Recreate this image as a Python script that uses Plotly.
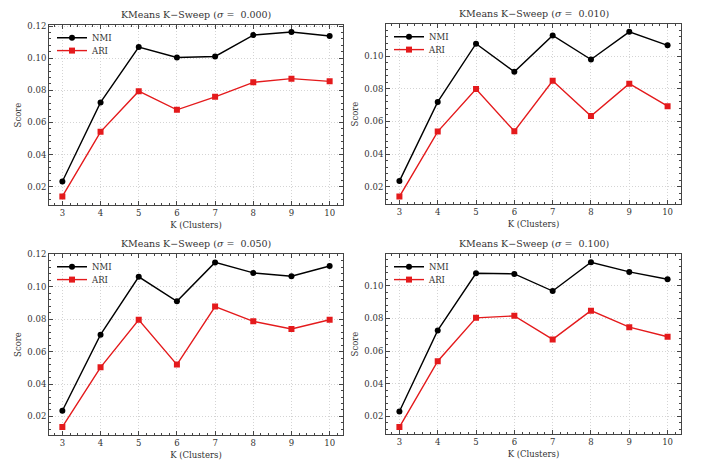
import plotly.graph_objects as go

K = [3, 4, 5, 6, 7, 8, 9, 10]
sigmas = ["0.000", "0.010", "0.050", "0.100"]

nmi_000 = [0.0233, 0.0725, 0.1070, 0.1005, 0.1011, 0.1144, 0.1163, 0.1138]
ari_000 = [0.0140, 0.0542, 0.0795, 0.0679, 0.0760, 0.0850, 0.0873, 0.0856]

nmi_010 = [0.0234, 0.0720, 0.1077, 0.0905, 0.1128, 0.0980, 0.1150, 0.1067]
ari_010 = [0.0139, 0.0538, 0.0799, 0.0540, 0.0850, 0.0633, 0.0832, 0.0694]

nmi_050 = [0.0235, 0.0705, 0.1062, 0.0911, 0.1151, 0.1086, 0.1066, 0.1129]
ari_050 = [0.0135, 0.0503, 0.0797, 0.0520, 0.0878, 0.0787, 0.0740, 0.0797]

nmi_100 = [0.0230, 0.0727, 0.1077, 0.1073, 0.0968, 0.1144, 0.1085, 0.1040]
ari_100 = [0.0135, 0.0538, 0.0804, 0.0816, 0.0672, 0.0848, 0.0747, 0.0688]

nmi_all = [nmi_000, nmi_010, nmi_050, nmi_100]
ari_all = [ari_000, ari_010, ari_050, ari_100]

y_ranges = [[0.0085, 0.1208], [0.0092, 0.1199], [0.0084, 0.1204], [0.0091, 0.1196]]

W, H = 701, 462
FONT = "DejaVu Serif"
RED = "#e41a1c"
TXT = "#333333"

# panel boxes in pixels: (left, right, top, bottom)
boxes = [(49, 343, 21, 203), (386, 681, 20, 202), (49, 343, 252, 435), (386, 681, 252, 434)]

fig = go.Figure()
annotations = []
layout_upd = {}
for i in range(4):
    l, r, t, b = boxes[i]
    xd = [l / W, r / W]
    yd = [1 - b / H, 1 - t / H]
    n = "" if i == 0 else str(i + 1)
    leg_a = "legend" if i == 0 else f"legend{2 * i + 1}"
    leg_b = f"legend{2 * i + 2}"
    fig.add_trace(go.Scatter(x=K, y=nmi_all[i], mode="lines+markers", name="NMI",
                             line=dict(color="black", width=1.4),
                             marker=dict(symbol="circle", size=6, color="black"),
                             xaxis="x" + n, yaxis="y" + n, legend=leg_a))
    fig.add_trace(go.Scatter(x=K, y=ari_all[i], mode="lines+markers", name="ARI",
                             line=dict(color=RED, width=1.4),
                             marker=dict(symbol="square", size=6, color=RED),
                             xaxis="x" + n, yaxis="y" + n, legend=leg_b))
    common = dict(showline=True, linecolor="#444444", linewidth=1, mirror="allticks",
                  ticks="inside", ticklen=4, tickcolor="#444444", tickwidth=1,
                  showgrid=True, gridcolor="#d4d4d4", griddash="1px,2px", gridwidth=1,
                  zeroline=False, tickfont=dict(family=FONT, size=8.5, color=TXT))
    layout_upd["xaxis" + n] = dict(domain=xd, anchor="y" + n, range=[2.65, 10.35], tickmode="array",
                                   tickvals=K, ticktext=[str(k) for k in K],
                                   minor=dict(ticks="inside", ticklen=2, dtick=0.2, tick0=3, tickcolor="#444444", showgrid=False),
                                   title=dict(text="K (Clusters)", font=dict(family=FONT, size=8.5, color=TXT), standoff=4),
                                   **common)
    layout_upd["yaxis" + n] = dict(domain=yd, anchor="x" + n, range=y_ranges[i], dtick=0.02, tick0=0,
                                   tickformat=".2f",
                                   minor=dict(ticks="inside", ticklen=2, dtick=0.004, tick0=0, tickcolor="#444444", showgrid=False),
                                   title=dict(text="Score", font=dict(family=FONT, size=8.5, color=TXT), standoff=4),
                                   **common)
    for j, leg in enumerate([leg_a, leg_b]):
        layout_upd[leg] = dict(x=(l + 3) / W, y=1 - (t + 13 + 13 * j) / H, xanchor="left", yanchor="middle",
                               bgcolor="rgba(0,0,0,0)", borderwidth=0,
                               font=dict(family=FONT, size=8.5, color=TXT),
                               tracegroupgap=0, itemwidth=30)
    annotations.append(dict(text=f"KMeans K\u2212Sweep (<i>σ</i> =  {sigmas[i]})", x=(l + r) / 2 / W,
                            y=1 - (t - 10) / H, xref="paper", yref="paper",
                            xanchor="center", yanchor="middle", showarrow=False,
                            font=dict(family=FONT, size=9.5, color=TXT)))

fig.update_layout(**layout_upd)
fig.update_layout(width=W, height=H, margin=dict(l=0, r=0, t=0, b=0),
                  paper_bgcolor="white", plot_bgcolor="white",
                  annotations=annotations, showlegend=True)
fig.write_html("out.html")
